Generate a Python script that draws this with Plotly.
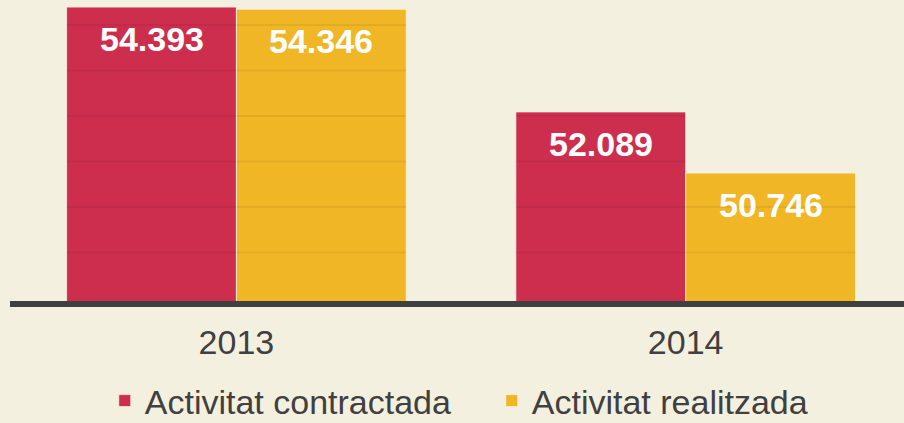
import plotly.graph_objects as go

years = ["2013", "2014"]
contractada = [54393, 52089]
realitzada = [54346, 50746]
series_names = ["Activitat contractada", "Activitat realitzada"]
grid_values = [49000, 50000, 51000, 52000, 53000, 54000]

RED = "#CD2E4E"
YEL = "#F0B626"
BG = "#F4F0DF"
DARK = "#404040"
BARGAP = 0.244
FONT = "Liberation Sans, Arial, sans-serif"


def fmt(v):
    return f"{v:,}".replace(",", ".")


series = [contractada, realitzada]
colors = [RED, YEL]

fig = go.Figure()
for name, vals, col in zip(series_names, series, colors):
    fig.add_trace(go.Bar(
        name=name, x=years, y=vals,
        marker=dict(color=col, line=dict(color="rgba(255,245,235,0.75)", width=1)),
        hovertemplate="%{x}: %{y}<extra>" + name + "</extra>",
    ))

bar_w = (1 - BARGAP) / len(series)
annotations = []
shapes = []
for j, vals in enumerate(series):
    offset = (j - (len(series) - 1) / 2) * bar_w
    for i, v in enumerate(vals):
        xc = i + offset
        annotations.append(dict(
            x=xc, y=v, xref="x", yref="y", text=fmt(v), showarrow=False,
            yanchor="top", yshift=-11,
            font=dict(family=FONT, size=34, color="white", weight="bold"),
        ))
        for g in grid_values:
            if g < v:
                shapes.append(dict(
                    type="line", xref="x", yref="y", layer="above",
                    x0=xc - bar_w / 2, x1=xc + bar_w / 2, y0=g, y1=g,
                    line=dict(color="rgba(0,0,0,0.06)", width=2),
                ))

fig.update_layout(
    width=904, height=423,
    margin=dict(l=10, r=0, t=0, b=122, autoexpand=False),
    paper_bgcolor=BG, plot_bgcolor=BG,
    barmode="group", bargap=BARGAP, bargroupgap=0,
    font=dict(family=FONT, color=DARK),
    annotations=annotations, shapes=shapes,
    showlegend=True,
    legend=dict(
        orientation="h", x=0.106, xanchor="left",
        yref="container", y=0.052, yanchor="middle",
        font=dict(family=FONT, size=34, color=DARK),
        itemwidth=30, entrywidth=342, entrywidthmode="pixels",
        bgcolor="rgba(0,0,0,0)",
    ),
    xaxis=dict(
        type="category", range=[-0.504, 1.486],
        showline=True, linecolor=DARK, linewidth=6,
        ticks="", showgrid=False, zeroline=False,
        tickfont=dict(family=FONT, size=34, color=DARK),
        ticklabelstandoff=6,
    ),
    yaxis=dict(
        range=[47934, 54549], showticklabels=False, showgrid=False,
        zeroline=False, showline=False, ticks="",
    ),
)

fig.write_html(
    "out.html",
    config={"displayModeBar": False},
    post_script="document.body.style.margin='0';document.body.style.background='" + BG + "';",
)
